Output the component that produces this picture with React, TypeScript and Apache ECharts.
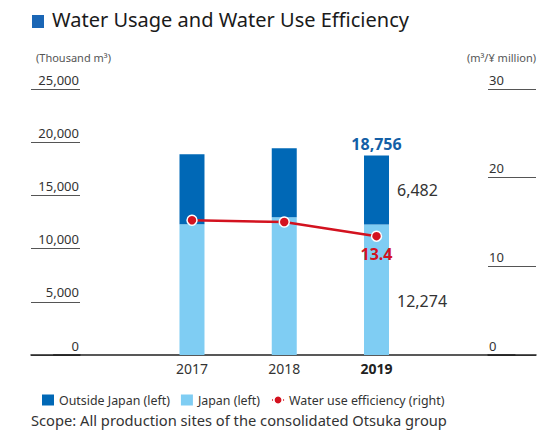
import React, { useEffect, useRef } from "react";
import * as echarts from "echarts";

const years = ["2017", "2018", "2019"];
const outsideJapan = [6570, 6470, 6482];
const japan = [12290, 12950, 12274];
const efficiency = [15.2, 15.0, 13.4];
const leftAxis = { min: 0, max: 25000, interval: 5000 };
const rightAxis = { min: 0, max: 30, interval: 10 };
const labelledYear = "2019";

const FONT = "'Noto Sans', 'Open Sans', sans-serif";
const DARK_BLUE = "#0068b6";
const LIGHT_BLUE = "#7fcdf3";
const RED = "#d3121f";
const TEXT = "#333333";

const fmt = (v: number) => v.toLocaleString("en-US");

export default function App() {
  const ref = useRef<HTMLDivElement>(null);
  useEffect(() => {
    if (!ref.current) return;
    const chart = echarts.init(ref.current, undefined, { renderer: "svg" });
    const cats = ["", ...years, ""];
    const pad = (arr: any[]) => [null, ...arr, null];
    const li = years.indexOf(labelledYear);
    const totals = years.map((_, i) => outsideJapan[i] + japan[i]);

    const outsideData = outsideJapan.map((v, i) =>
      i === li
        ? {
            value: v,
            label: {
              show: true,
              position: "right",
              distance: 8,
              formatter: (p: any) => fmt(p.value),
              color: TEXT,
              fontSize: 16,
              fontFamily: FONT,
            },
          }
        : v
    );
    const japanData = japan.map((v, i) =>
      i === li
        ? {
            value: v,
            label: {
              show: true,
              position: "right",
              distance: 8,
              offset: [0, 11],
              formatter: (p: any) => fmt(p.value),
              color: TEXT,
              fontSize: 16,
              fontFamily: FONT,
            },
          }
        : v
    );
    const effData = efficiency.map((v, i) =>
      i === li
        ? {
            value: v,
            label: {
              show: true,
              position: "bottom",
              distance: 4,
              formatter: (p: any) => p.value.toFixed(1),
              color: RED,
              fontSize: 16,
              fontWeight: "bold",
              fontFamily: FONT,
            },
          }
        : v
    );
    const totalData = totals.map((v, i) => (i === li ? v : null));

    const smallYAxis = (gridIndex: number, ax: any, position: string, align: string) => ({
      type: "value",
      gridIndex,
      position,
      min: ax.min,
      max: ax.max,
      interval: ax.interval,
      axisLine: { show: false },
      axisTick: { show: false },
      splitLine: { show: true, lineStyle: { color: "#555", width: 1 } },
      axisLabel: {
        inside: true,
        margin: 1,
        align,
        verticalAlign: "bottom",
        padding: [0, 0, 3, 0],
        color: TEXT,
        fontSize: 13,
        fontFamily: FONT,
        formatter: (v: number) => fmt(v),
      },
    });
    const smallXAxis = (gridIndex: number) => ({
      type: "value",
      gridIndex,
      min: 0,
      max: 1,
      axisLine: { show: true, lineStyle: { color: "#222", width: 1.5 } },
      axisTick: { show: false },
      axisLabel: { show: false },
      splitLine: { show: false },
    });

    chart.setOption({
      animation: false,
      textStyle: { fontFamily: FONT },
      grid: [
        { left: 53.6, right: 35.1, top: 89, height: 266 },
        { left: 31, width: 49, top: 89, height: 266 },
        { left: 488, width: 48, top: 89, height: 266 },
      ],
      xAxis: [
        {
          type: "category",
          gridIndex: 0,
          data: cats,
          axisLine: { show: true, lineStyle: { color: "#222", width: 1.5 } },
          axisTick: { show: false },
          axisLabel: {
            margin: 6,
            color: TEXT,
            fontSize: 14,
            fontFamily: FONT,
            formatter: (v: string) => (v === labelledYear ? `{b|${v}}` : v),
            rich: { b: { fontWeight: "bold", color: "#222", fontSize: 14, fontFamily: FONT } },
          },
        },
        smallXAxis(1),
        smallXAxis(2),
      ],
      yAxis: [
        { type: "value", gridIndex: 0, min: leftAxis.min, max: leftAxis.max, interval: leftAxis.interval, show: false, splitLine: { show: false } },
        { type: "value", gridIndex: 0, min: rightAxis.min, max: rightAxis.max, interval: rightAxis.interval, show: false, splitLine: { show: false } },
        smallYAxis(1, leftAxis, "right", "right"),
        smallYAxis(2, rightAxis, "left", "left"),
      ],
      legend: {
        left: 37,
        top: 389,
        itemWidth: 12,
        itemHeight: 11,
        itemGap: 11,
        textStyle: { color: TEXT, fontSize: 12.4, fontFamily: FONT },
        data: [
          { name: "Outside Japan (left)", icon: "rect" },
          { name: "Japan (left)", icon: "rect" },
          { name: "Water use efficiency (right)" },
        ],
      },
      series: [
        {
          name: "Japan (left)",
          type: "bar",
          stack: "w",
          xAxisIndex: 0,
          yAxisIndex: 0,
          barWidth: 25,
          itemStyle: { color: LIGHT_BLUE },
          data: pad(japanData),
        },
        {
          name: "Outside Japan (left)",
          type: "bar",
          stack: "w",
          xAxisIndex: 0,
          yAxisIndex: 0,
          barWidth: 25,
          itemStyle: { color: DARK_BLUE },
          data: pad(outsideData),
        },
        {
          name: "total",
          type: "scatter",
          xAxisIndex: 0,
          yAxisIndex: 0,
          symbolSize: 0,
          silent: true,
          itemStyle: { opacity: 1 },
          label: {
            show: true,
            position: "top",
            distance: 3,
            formatter: (p: any) => (p.value == null ? "" : fmt(p.value)),
            color: "#135fa6",
            fontSize: 16,
            fontWeight: "bold",
            fontFamily: FONT,
          },
          data: pad(totalData),
        },
        {
          name: "Water use efficiency (right)",
          type: "line",
          xAxisIndex: 0,
          yAxisIndex: 1,
          symbol: "circle",
          symbolSize: 10,
          lineStyle: { color: RED, width: 2.5 },
          itemStyle: { color: RED, borderColor: "#fff", borderWidth: 1.5 },
          data: pad(effData),
        },
      ],
      graphic: [
        { type: "rect", left: 32, top: 15, shape: { width: 12, height: 13 }, style: { fill: "#1a66b5" } },
        {
          type: "text",
          left: 52,
          top: 9,
          style: { text: "Water Usage and Water Use Efficiency", fontSize: 20, fontFamily: FONT, fill: "#1a1a1a" },
        },
        {
          type: "text",
          left: 36,
          top: 52,
          style: { text: "(Thousand m³)", fontSize: 11, fontFamily: FONT, fill: "#555" },
        },
        {
          type: "text",
          right: 14,
          top: 52,
          style: { text: "(m³/¥ million)", fontSize: 11, fontFamily: FONT, fill: "#555" },
        },
        {
          type: "text",
          left: 31,
          top: 412,
          style: { text: "Scope: All production sites of the consolidated Otsuka group", fontSize: 14.7, fontFamily: FONT, fill: TEXT },
        },
      ],
    });
    return () => chart.dispose();
  }, []);
  return (
    <div
      ref={ref}
      style={{ width: 550, height: 430, position: "absolute", left: 0, top: 0 }}
    />
  );
}
